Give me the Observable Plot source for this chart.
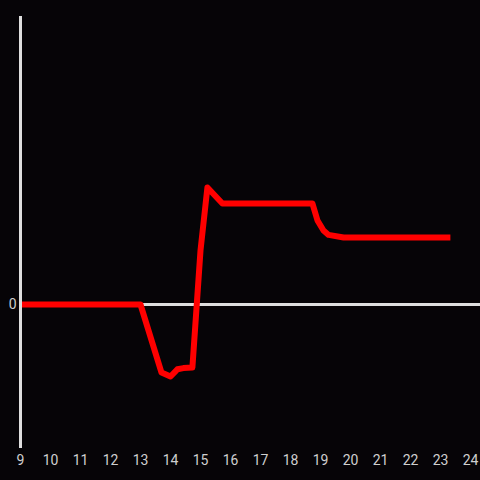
<!DOCTYPE html>
<html><head><meta charset="utf-8">
<script src="https://cdn.jsdelivr.net/npm/d3@7"></script>
<script src="https://cdn.jsdelivr.net/npm/@observablehq/plot@0.6"></script>
<style>
html,body{margin:0;padding:0;background:#060407;}
</style></head>
<body><div id="chart"></div>
<script>
const xs = [9, 13, 13.7, 14, 14.23, 14.43, 14.73, 15.0, 15.23, 15.73, 18.73, 18.9, 19.1, 19.27, 19.77, 23.33];
const ys = [0, 0, -0.567, -0.6, -0.54, -0.53, -0.525, 0.45, 0.975, 0.842, 0.842, 0.7, 0.617, 0.58, 0.558, 0.558];
const xTicks = [9,10,11,12,13,14,15,16,17,18,19,20,21,22,23,24];
const yTicks = [0];
const data = xs.map((x,i)=>({x, y: ys[i]}));

const chart = Plot.plot({
  width: 480, height: 480,
  marginLeft: 20, marginRight: 0, marginTop: 16, marginBottom: 32,
  style: {background: "#060407", color: "#cfcfcf", fontSize: "14px", fontFamily: "Roboto, sans-serif"},
  x: {domain: [9, 24 + 1/3], ticks: xTicks, tickSize: 0, tickPadding: 7, label: null, tickFormat: d => String(d)},
  y: {domain: [-1.2, 2.4], ticks: yTicks, tickSize: 0, tickPadding: 4, label: null, tickFormat: d => String(d)},
  marks: [
    Plot.ruleY([0], {stroke: "#dedede", strokeWidth: 3}),
    Plot.line(data, {x: "x", y: "y", stroke: "#ff0000", strokeWidth: 6, strokeLinejoin: "round", strokeLinecap: "butt"}),
    Plot.ruleX([9], {stroke: "#dedede", strokeWidth: 3})
  ]
});
document.getElementById("chart").appendChild(chart);
</script></body></html>
